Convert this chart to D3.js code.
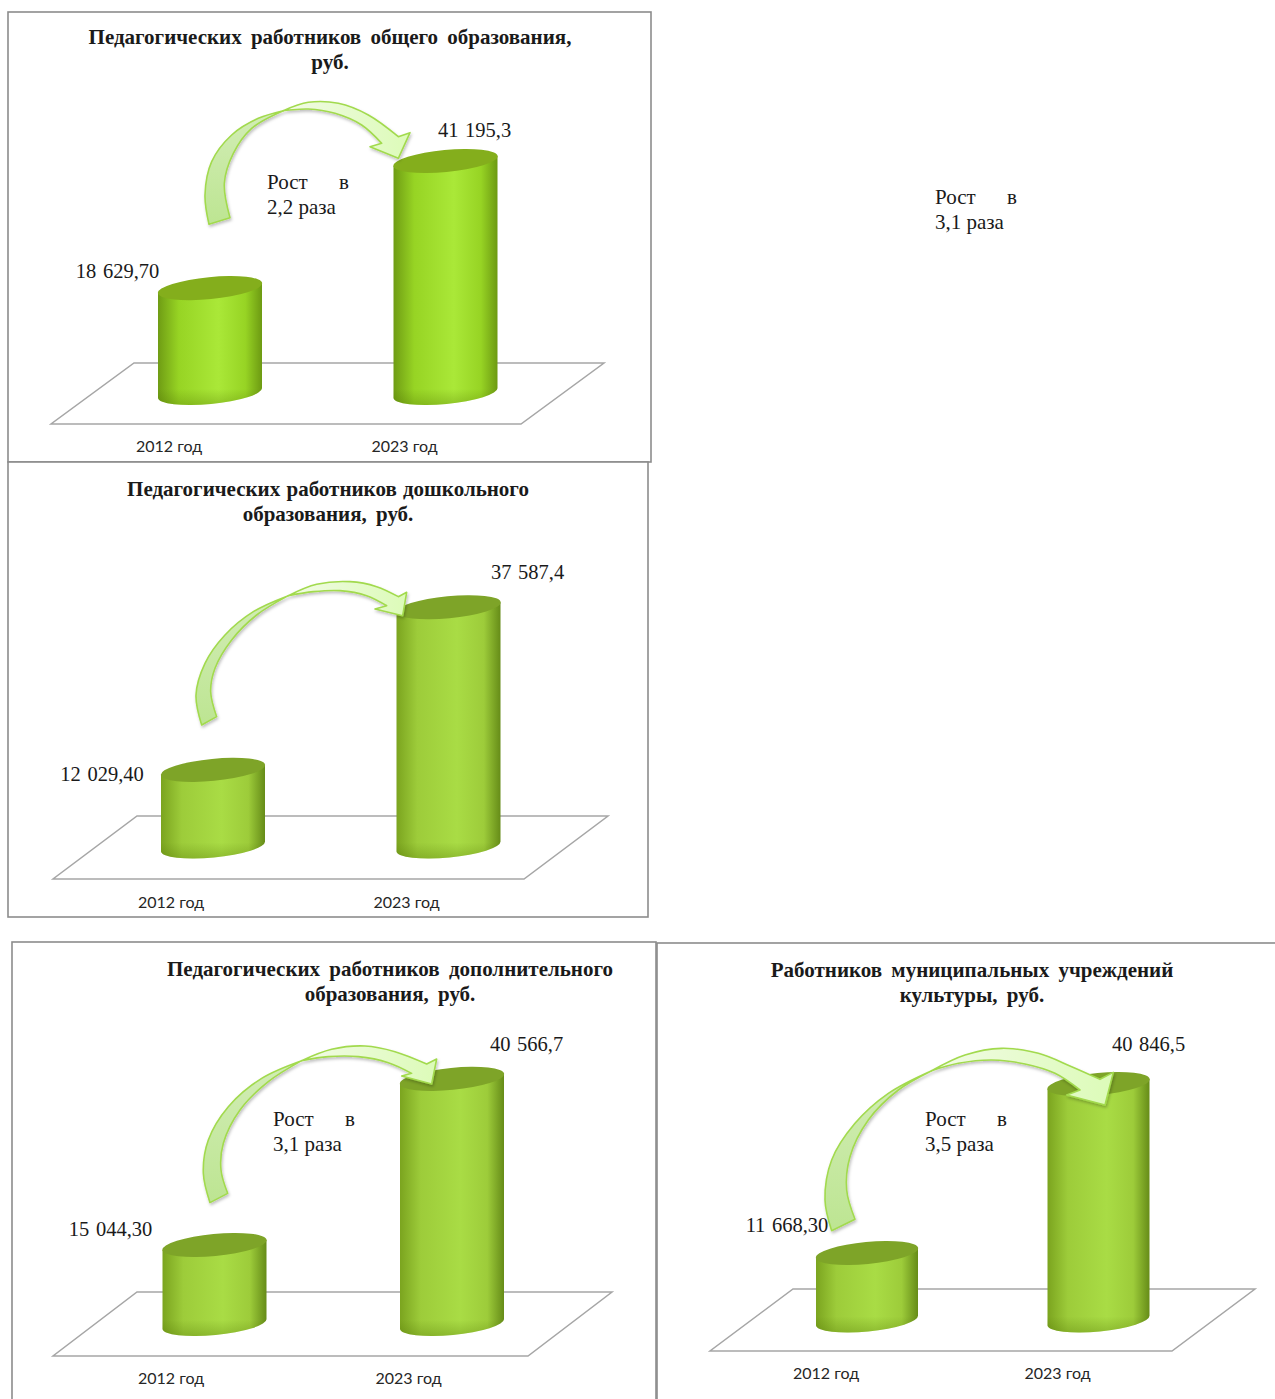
<!DOCTYPE html>
<html>
<head>
<meta charset="utf-8">
<script src="https://cdn.jsdelivr.net/npm/d3@7"></script>
<style>
    html, body { margin: 0; padding: 0; background: #fff; overflow: hidden; }
    text { fill: #1a1a1a; }
    .title { font: bold 21px "Liberation Serif", serif; text-anchor: middle; }
    .value { font: 20.5px "Liberation Serif", serif; word-spacing: 1.5px; text-anchor: middle; }
    .growth { font: 21px "Liberation Serif", serif; }
    .category { font: 16px Lato, sans-serif; text-anchor: middle; fill: #262626; }
</style>
</head>
<body>
<svg id="page" width="1275" height="1399"></svg>
<script>

// Chart data
const categories = ["2012 год", "2023 год"];
const titles = [
    ["Педагогических работников общего образования,", "руб."],
    ["Педагогических работников дошкольного", "образования, руб."],
    ["Педагогических работников дополнительного", "образования, руб."],
    ["Работников муниципальных учреждений", "культуры, руб."]
];
const values2012 = [18629.7, 12029.4, 15044.3, 11668.3];
const values2023 = [41195.3, 37587.4, 40566.7, 40846.5];
const labels2012 = ["18 629,70", "12 029,40", "15 044,30", "11 668,30"];
const labels2023 = ["41 195,3", "37 587,4", "40 566,7", "40 846,5"];
const growthLines = [
    ["Рост в", "2,2 раза"],
    ["Рост в", "3,1 раза"],
    ["Рост в", "3,1 раза"],
    ["Рост в", "3,5 раза"]
];

// Panel layout
const frames = [[8, 12, 643, 450], [8, 462, 640, 455], [12, 942, 644, 480], [657, 943, 640, 480]];
const titleCentres = [[330, 44], [328, 496], [390, 976], [972, 977]];
const titleSpacing = [4, 1, 4, 4];
const axisMin = [0, 0, 2900, 0];
const axisMax = 45000;
const plotBase = [393, 846.5, 1324, 1320.5];
const plotTop = [139.6, 560, 1050, 1060];
const barCentres = [[210, 445.5], [213, 448.5], [214.5, 452], [867, 1098.5]];
const barHalfWidths = [52, 52, 52, 51];
const floors = [[51, 521, 134, 424, 363], [53, 524, 137, 879, 816], [53, 528, 137, 1356, 1292], [710, 1172, 793, 1351, 1289]];
const categoryOffset = [-41, -42, -43.5, -41];
const categoryY = [452, 908, 1384, 1379];
const labelOffsets = [
    [[-92.5, -17], [29, -31]],
    [[-111, 4], [79, -35.5]],
    [[-104, -16], [74.5, -35]],
    [[-80, -28], [50, -40]]
];
const growthPositions = [[267, 189], [935, 204], [273, 1126], [925, 1126]];

// Curved arrows: each outline is measured on a 3x grid over its box [x, y, width, height]
const arrowBoxes = [[195, 95, 225, 140], [190, 575, 230, 160], [195, 1040, 250, 170], [815, 1040, 310, 200]];
const arrowOuterBack = [
    [[42, 388], [30, 300], [50, 200], [110, 120], [190, 70], [265, 47]],
    [[35, 450], [18, 360], [45, 265], [105, 180], [190, 110], [295, 62]],
    [[45, 488], [25, 400], [40, 300], [100, 200], [200, 115], [320, 62]],
    [[50, 572], [30, 480], [50, 360], [120, 250], [220, 160], [350, 92]]
];
const arrowInnerBack = [
    [[265, 47], [170, 100], [115, 175], [88, 265], [105, 368]],
    [[295, 62], [200, 120], [125, 195], [75, 280], [62, 350], [80, 425]],
    [[320, 62], [220, 125], [135, 210], [85, 310], [78, 390], [98, 460]],
    [[350, 92], [250, 150], [160, 240], [105, 350], [95, 450], [120, 538]]
];
const arrowOuterFront = [
    [[265, 47], [340, 22], [430, 25], [520, 60], [610, 125]],
    [[295, 62], [380, 28], [480, 20], [560, 35], [625, 65]],
    [[320, 62], [410, 28], [510, 18], [600, 35], [695, 72]],
    [[350, 92], [450, 45], [560, 25], [670, 40], [770, 80], [855, 118]]
];
const arrowHeads = [
    [[645, 113], [610, 190], [525, 155], [560, 145]],
    [[650, 52], [638, 122], [555, 102], [590, 92]],
    [[725, 57], [710, 132], [620, 108], [650, 100]],
    [[895, 97], [870, 195], [755, 165], [795, 150]]
];
const arrowInnerFront = [
    [[560, 145], [500, 90], [420, 55], [340, 42], [265, 47]],
    [[590, 92], [530, 62], [450, 47], [370, 50], [295, 62]],
    [[650, 100], [580, 68], [490, 50], [400, 50], [320, 62]],
    [[795, 150], [720, 100], [630, 72], [530, 60], [430, 70], [350, 92]]
];

const barRy = 11, barTilt = -5.5, barLift = 5;
const paletteBright = { edge: "#6f9c14", mid: "#97d424", centre: "#aae838", far: "#6d9a12", top: "#84ae1c" };
const paletteSoft = { edge: "#7ba41f", mid: "#9dcc3a", centre: "#a9dc45", far: "#668c18", top: "#7ea428" };

const svg = d3.select("#page");
const defs = svg.append("defs");

/** Horizontal body gradient for a palette */
function addBodyGradient(id, p) {
    const grad = defs.append("linearGradient").attr("id", id);
    [[0, p.edge], [0.2, p.mid], [0.58, p.centre], [0.84, p.mid], [1, p.far]].forEach(([o, c]) => {
        grad.append("stop").attr("offset", o).attr("stop-color", c);
    });
}
addBodyGradient("bodyBright", paletteBright);
addBodyGradient("bodySoft", paletteSoft);

const backGrad = defs.append("linearGradient").attr("id", "arrowBack").attr("x1", 0).attr("x2", 0).attr("y1", 0).attr("y2", 1);
backGrad.append("stop").attr("offset", 0).attr("stop-color", "#d2edb6");
backGrad.append("stop").attr("offset", 1).attr("stop-color", "#bde592");
const frontGrad = defs.append("linearGradient").attr("id", "arrowFront");
frontGrad.append("stop").attr("offset", 0).attr("stop-color", "#f2fbe6");
frontGrad.append("stop").attr("offset", 1).attr("stop-color", "#dcfbb8");

defs.append("filter").attr("id", "arrowShadow")
    .append("feDropShadow")
    .attr("dx", 1).attr("dy", 2).attr("stdDeviation", 1.5)
    .attr("flood-color", "#000").attr("flood-opacity", 0.25);

const curve = d3.line().curve(d3.curveCatmullRom.alpha(0.5));

/** Draw the curved growth arrow of a panel */
function drawArrow(g, i) {
    const [bx, by, bw, bh] = arrowBoxes[i];
    const sx = d3.scaleLinear().domain([0, bw * 3]).range([bx, bx + bw]);
    const sy = d3.scaleLinear().domain([0, bh * 3]).range([by, by + bh]);
    const fit = (pts) => pts.map((d) => [sx(d[0]), sy(d[1])]);
    const join = (pts) => curve(fit(pts)).replace(/^M/, "L");

    const arrow = g.append("g").attr("filter", "url(#arrowShadow)")
        .attr("stroke", "#a2da4e").attr("stroke-width", 1.6).attr("stroke-linejoin", "round");
    arrow.append("path")
        .attr("fill", "url(#arrowBack)")
        .attr("d", curve(fit(arrowOuterBack[i])) + join(arrowInnerBack[i]) + "Z");
    const head = fit(arrowHeads[i]).map((d) => `L${d[0]},${d[1]}`).join("");
    arrow.append("path")
        .attr("fill", "url(#arrowFront)")
        .attr("d", curve(fit(arrowOuterFront[i])) + head + join(arrowInnerFront[i]) + "Z");
}

/** Draw one cylinder from its value */
function drawBar(g, cx, topY, baseY, panel, barIndex) {
    const palette = panel === 0 ? paletteBright : paletteSoft;
    const rx = barHalfWidths[panel];
    const l = cx - rx, r = cx + rx;
    const arc = `A${rx},${barRy} ${barTilt} 0 0`;
    const body = `M${l},${topY + barLift}L${l},${baseY + barLift}${arc} ${r},${baseY - barLift}L${r},${topY - barLift}Z`;

    g.append("path").attr("d", body).attr("fill", panel === 0 ? "url(#bodyBright)" : "url(#bodySoft)");

    // Slightly darker rim along the bottom edge
    const shadeId = `shade${panel}_${barIndex}`;
    const shade = defs.append("linearGradient").attr("id", shadeId)
        .attr("gradientUnits", "userSpaceOnUse")
        .attr("x1", 0).attr("x2", 0).attr("y1", baseY - 4).attr("y2", baseY + 12);
    shade.append("stop").attr("offset", 0).attr("stop-color", "#4d7000").attr("stop-opacity", 0);
    shade.append("stop").attr("offset", 1).attr("stop-color", "#4d7000").attr("stop-opacity", 0.3);
    g.append("path").attr("d", body).attr("fill", `url(#${shadeId})`);

    g.append("ellipse")
        .attr("rx", rx + 0.4).attr("ry", barRy)
        .attr("transform", `translate(${cx},${topY}) rotate(${barTilt})`)
        .attr("fill", palette.top);
}

titles.forEach((title, i) => {
    const g = svg.append("g");
    const [fx, fy, fw, fh] = frames[i];
    g.append("rect")
        .attr("x", fx).attr("y", fy).attr("width", fw).attr("height", fh)
        .attr("fill", "#fff").attr("stroke", "#8c8c8c").attr("stroke-width", 1.6);

    title.forEach((line, k) => {
        g.append("text").attr("class", "title")
            .attr("x", titleCentres[i][0]).attr("y", titleCentres[i][1] + k * 25)
            .style("word-spacing", `${k === 0 ? titleSpacing[i] : 4}px`)
            .text(line);
    });

    // Floor
    const [fl, fr, ftl, fb, ft] = floors[i];
    g.append("path")
        .attr("d", `M${fl},${fb}L${fr},${fb}L${ftl + fr - fl},${ft}L${ftl},${ft}Z`)
        .attr("fill", "#fff").attr("stroke", "#a6a6a6").attr("stroke-width", 1.5);

    const x = d3.scalePoint().domain(categories).range(barCentres[i]);
    const y = d3.scaleLinear().domain([axisMin[i], axisMax]).range([plotBase[i], plotTop[i]]);
    const values = [values2012[i], values2023[i]];
    const labels = [labels2012[i], labels2023[i]];

    categories.forEach((cat, b) => {
        drawBar(g, x(cat), y(values[b]), y(axisMin[i]), i, b);
    });

    drawArrow(g, i);

    categories.forEach((cat, b) => {
        g.append("text").attr("class", "category")
            .attr("x", x(cat) + categoryOffset[i]).attr("y", categoryY[i])
            .text(cat);
        g.append("text").attr("class", "value")
            .attr("x", x(cat) + labelOffsets[i][b][0])
            .attr("y", y(values[b]) + labelOffsets[i][b][1])
            .attr("dy", "0.35em")
            .text(labels[b]);
    });
});

// Growth captions sit on top of everything; the second panel's floats to the right
growthLines.forEach((lines, i) => {
    const [gx, gy] = growthPositions[i];
    svg.append("text").attr("class", "growth")
        .attr("x", gx).attr("y", gy).style("word-spacing", "26px")
        .text(lines[0]);
    svg.append("text").attr("class", "growth")
        .attr("x", gx).attr("y", gy + 25)
        .text(lines[1]);
});
</script>
</body>
</html>
